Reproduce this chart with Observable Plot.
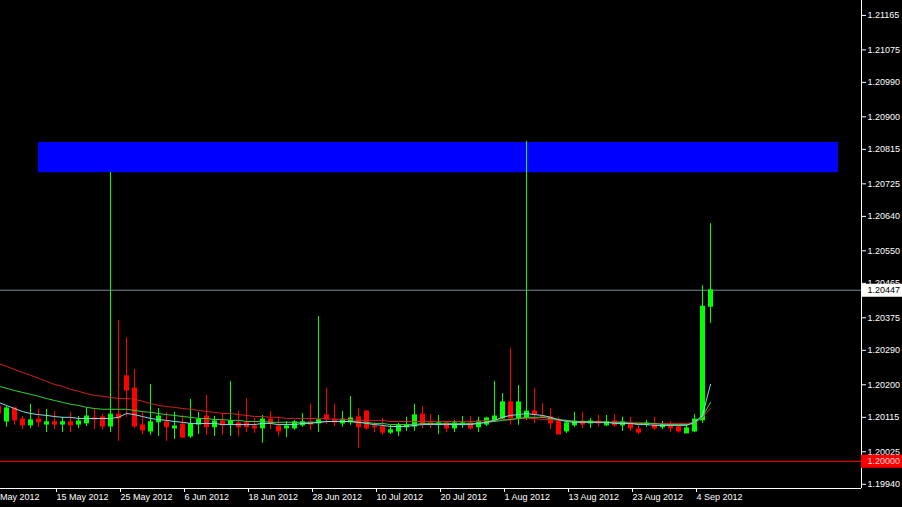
<!DOCTYPE html>
<html><head><meta charset="utf-8">
<script src="https://cdn.jsdelivr.net/npm/d3@7"></script>
<script src="https://cdn.jsdelivr.net/npm/@observablehq/plot@0.6"></script>
<style>html,body{margin:0;padding:0;background:#000;overflow:hidden}</style>
</head><body>
<script>
// Daily bars, index 0 = 7 May 2012 (weekdays only); bars -1 .. 88
const firstBar = -1;
const open = [1.20143,1.20104,1.20138,1.20109,1.20094,1.20109,1.20096,1.20102,1.20096,1.20102,
1.20096,1.20099,1.20112,1.20115,1.20091,1.20122,1.20222,1.20190,1.20094,1.20078,
1.20102,1.20102,1.20086,1.20096,1.20065,1.20096,1.20117,1.20089,1.20104,1.20096,
1.20099,1.20099,1.20091,1.20086,1.20109,1.20091,1.20086,1.20086,1.20094,1.20102,
1.20099,1.20120,1.20109,1.20099,1.20102,1.20115,1.20130,1.20091,1.20089,1.20075,
1.20078,1.20089,1.20091,1.20122,1.20099,1.20096,1.20099,1.20086,1.20096,1.20099,
1.20089,1.20096,1.20107,1.20112,1.20154,1.20112,1.20115,1.20130,1.20117,1.20115,
1.20104,1.20078,1.20094,1.20104,1.20099,1.20104,1.20094,1.20104,1.20094,1.20096,
1.20083,1.20096,1.20096,1.20089,1.20094,1.20089,1.20073,1.20078,1.20107,1.20404];
const high = [1.20154,1.20143,1.20141,1.20117,1.20149,1.20136,1.20136,1.20130,1.20115,1.20128,
1.20117,1.20138,1.20138,1.20122,1.20755,1.20368,1.20323,1.20240,1.20128,1.20201,
1.20138,1.20128,1.20128,1.20120,1.20162,1.20128,1.20172,1.20117,1.20125,1.20209,
1.20130,1.20164,1.20112,1.20120,1.20130,1.20115,1.20104,1.20107,1.20125,1.20149,
1.20378,1.20190,1.20149,1.20130,1.20169,1.20138,1.20133,1.20102,1.20112,1.20094,
1.20099,1.20115,1.20149,1.20143,1.20122,1.20120,1.20102,1.20107,1.20117,1.20117,
1.20115,1.20115,1.20209,1.20177,1.20295,1.20198,1.20836,1.20190,1.20151,1.20138,
1.20115,1.20107,1.20128,1.20128,1.20112,1.20120,1.20120,1.20122,1.20115,1.20115,
1.20094,1.20107,1.20115,1.20104,1.20104,1.20096,1.20096,1.20122,1.20459,1.20621];
const low = [1.20117,1.20089,1.20094,1.20083,1.20086,1.20089,1.20075,1.20083,1.20075,1.20075,
1.20086,1.20091,1.20083,1.20081,1.20075,1.20052,1.20115,1.20086,1.20070,1.20068,
1.20065,1.20052,1.20057,1.20060,1.20060,1.20070,1.20068,1.20065,1.20068,1.20065,
1.20065,1.20075,1.20073,1.20047,1.20083,1.20065,1.20062,1.20081,1.20089,1.20081,
1.20075,1.20096,1.20091,1.20089,1.20094,1.20034,1.20081,1.20075,1.20068,1.20070,
1.20065,1.20078,1.20078,1.20086,1.20086,1.20070,1.20075,1.20075,1.20086,1.20081,
1.20075,1.20091,1.20102,1.20109,1.20094,1.20094,1.20107,1.20099,1.20112,1.20083,
1.20070,1.20073,1.20089,1.20086,1.20086,1.20089,1.20091,1.20089,1.20078,1.20078,
1.20070,1.20089,1.20081,1.20083,1.20075,1.20073,1.20073,1.20075,1.20099,1.20360];
const close = [1.20125,1.20138,1.20107,1.20094,1.20107,1.20102,1.20102,1.20096,1.20102,1.20094,
1.20104,1.20117,1.20109,1.20091,1.20122,1.20112,1.20185,1.20091,1.20081,1.20102,
1.20117,1.20089,1.20091,1.20062,1.20096,1.20109,1.20089,1.20104,1.20094,1.20104,
1.20089,1.20089,1.20086,1.20109,1.20099,1.20078,1.20091,1.20102,1.20102,1.20096,
1.20107,1.20109,1.20102,1.20109,1.20112,1.20089,1.20086,1.20089,1.20075,1.20081,
1.20094,1.20094,1.20120,1.20096,1.20096,1.20099,1.20086,1.20099,1.20099,1.20086,
1.20104,1.20112,1.20117,1.20154,1.20112,1.20154,1.20130,1.20122,1.20115,1.20099,
1.20070,1.20099,1.20104,1.20096,1.20104,1.20099,1.20102,1.20094,1.20102,1.20086,
1.20075,1.20099,1.20086,1.20096,1.20086,1.20078,1.20086,1.20109,1.20404,1.20447];
const maSlow = [1.20256,1.20248,1.20240,1.20232,1.20225,1.20217,1.20209,1.20201,1.20196,1.20188,
1.20183,1.20177,1.20172,1.20170,1.20167,1.20164,1.20164,1.20162,1.20157,1.20151,
1.20146,1.20143,1.20141,1.20138,1.20136,1.20133,1.20130,1.20128,1.20125,1.20125,
1.20122,1.20120,1.20117,1.20117,1.20115,1.20115,1.20112,1.20112,1.20112,1.20112,
1.20112,1.20112,1.20109,1.20109,1.20109,1.20107,1.20107,1.20107,1.20107,1.20104,
1.20104,1.20104,1.20104,1.20104,1.20104,1.20104,1.20104,1.20104,1.20104,1.20104,
1.20104,1.20107,1.20107,1.20109,1.20109,1.20112,1.20112,1.20112,1.20109,1.20109,
1.20107,1.20107,1.20104,1.20104,1.20104,1.20104,1.20102,1.20102,1.20102,1.20102,
1.20102,1.20099,1.20099,1.20099,1.20099,1.20099,1.20099,1.20102,1.20115,1.20138];
const maMid = [1.20196,1.20191,1.20185,1.20180,1.20175,1.20170,1.20164,1.20159,1.20154,1.20149,
1.20146,1.20141,1.20138,1.20136,1.20136,1.20136,1.20136,1.20133,1.20130,1.20128,
1.20125,1.20122,1.20120,1.20117,1.20115,1.20112,1.20112,1.20109,1.20109,1.20107,
1.20107,1.20104,1.20104,1.20104,1.20102,1.20102,1.20102,1.20102,1.20102,1.20102,
1.20102,1.20104,1.20104,1.20104,1.20104,1.20102,1.20102,1.20099,1.20099,1.20096,
1.20096,1.20096,1.20096,1.20099,1.20099,1.20099,1.20099,1.20099,1.20099,1.20099,
1.20099,1.20102,1.20104,1.20107,1.20109,1.20112,1.20115,1.20115,1.20115,1.20112,
1.20109,1.20107,1.20104,1.20104,1.20104,1.20102,1.20102,1.20102,1.20102,1.20099,
1.20099,1.20099,1.20099,1.20096,1.20096,1.20096,1.20096,1.20099,1.20117,1.20154];
const maFast = [1.20154,1.20146,1.20138,1.20130,1.20125,1.20122,1.20120,1.20117,1.20115,1.20115,
1.20112,1.20112,1.20112,1.20112,1.20112,1.20115,1.20125,1.20122,1.20117,1.20112,
1.20109,1.20107,1.20104,1.20102,1.20099,1.20099,1.20099,1.20099,1.20096,1.20096,
1.20096,1.20096,1.20096,1.20099,1.20099,1.20096,1.20096,1.20096,1.20099,1.20099,
1.20102,1.20104,1.20104,1.20104,1.20104,1.20102,1.20099,1.20096,1.20094,1.20091,
1.20091,1.20091,1.20094,1.20096,1.20096,1.20096,1.20096,1.20096,1.20096,1.20096,
1.20099,1.20102,1.20107,1.20115,1.20120,1.20122,1.20125,1.20122,1.20120,1.20115,
1.20109,1.20104,1.20102,1.20102,1.20102,1.20102,1.20102,1.20099,1.20099,1.20099,
1.20096,1.20096,1.20094,1.20094,1.20094,1.20094,1.20094,1.20102,1.20120,1.20201];

const dateTickBars = [-2, 6, 14, 22, 30, 38, 46, 54, 62, 70, 78, 86];
const dateTickLabels = ["3 May 2012","15 May 2012","25 May 2012","6 Jun 2012","18 Jun 2012","28 Jun 2012",
  "10 Jul 2012","20 Jul 2012","1 Aug 2012","13 Aug 2012","23 Aug 2012","4 Sep 2012"];
const priceTicks = [1.19940,1.20025,1.20115,1.20200,1.20290,1.20375,1.20465,1.20550,
  1.20640,1.20725,1.20815,1.20900,1.20990,1.21075,1.21165];
const bidPrice = 1.20447;
const floorPrice = 1.20000;
const zoneBars = [4, 104];
const zonePrices = [1.20754, 1.20833];

const xDomain = [-0.75, 106.875];
const yDomain = [1.19929, 1.21204];

const bars = open.map((o, i) => ({k: firstBar + i, o, h: high[i], l: low[i], c: close[i]}));
const upBars = bars.filter(d => d.c >= d.o);
const downBars = bars.filter(d => d.c < d.o);
const ma = (arr) => arr.map((v, i) => ({k: firstBar + i, v}));
const fmt = d3.format(".5f");
const zone = [{x1: zoneBars[0], x2: zoneBars[1], y1: zonePrices[0], y2: zonePrices[1]}];
const boxW = 5.2;

const candle = (data, color) => [
  Plot.ruleX(data, {x: "k", y1: "l", y2: "h", stroke: color, strokeWidth: 1}),
  Plot.ruleX(data, {x: "k", y1: d => Math.max(d.o, d.c), y2: d => Math.min(d.o, d.c),
    stroke: color, strokeWidth: 5, insetTop: -0.5, insetBottom: -0.5})
];

const chart = Plot.plot({
  width: 902, height: 507,
  marginLeft: 0, marginRight: 41, marginTop: 0, marginBottom: 19,
  style: {background: "#000", color: "#fff", fontFamily: "'Liberation Sans', Arial, sans-serif", fontSize: "9px"},
  x: {type: "linear", domain: xDomain, axis: null},
  y: {type: "linear", domain: yDomain, axis: null},
  marks: [
    Plot.rect(zone, {x1: "x1", x2: "x2", y1: "y1", y2: "y2", fill: "#0000ff"}),
    Plot.ruleY([bidPrice], {x1: xDomain[0], x2: xDomain[1], stroke: "#778899"}),
    Plot.ruleY([floorPrice], {x1: xDomain[0], x2: xDomain[1], stroke: "#ff0000"}),
    ...candle(upBars, "#00ff00"),
    ...candle(downBars, "#ff0000"),
    Plot.line(ma(maSlow), {x: "k", y: "v", stroke: "#d42020", strokeWidth: 1}),
    Plot.line(ma(maMid), {x: "k", y: "v", stroke: "#36d436", strokeWidth: 1}),
    Plot.line(ma(maFast), {x: "k", y: "v", stroke: "#86dcec", strokeWidth: 1}),
    Plot.ruleX([xDomain[1]], {stroke: "#fff"}),
    Plot.ruleY([yDomain[0]], {x1: xDomain[0], x2: xDomain[1], stroke: "#fff"}),
    Plot.axisY({anchor: "right", ticks: priceTicks, tickFormat: fmt, tickSize: 4, tickPadding: 2, fill: "#fff", stroke: "#fff"}),
    Plot.axisX({anchor: "bottom", ticks: dateTickBars, tickFormat: d => dateTickLabels[dateTickBars.indexOf(d)],
      textAnchor: "start", dx: 2, tickSize: 4, tickPadding: 1, fill: "#fff", stroke: "#fff"}),
    Plot.ruleY([bidPrice], {x1: xDomain[1], x2: xDomain[1] + boxW, stroke: "#ffffff", strokeWidth: 13}),
    Plot.text([bidPrice], {x: xDomain[1], y: d => d, text: fmt, textAnchor: "start", dx: 6, fill: "#000"}),
    Plot.ruleY([floorPrice], {x1: xDomain[1], x2: xDomain[1] + boxW, stroke: "#ff0000", strokeWidth: 13}),
    Plot.text([floorPrice], {x: xDomain[1], y: d => d, text: fmt, textAnchor: "start", dx: 6, fill: "#ffd8d8"})
  ]
});
document.body.appendChild(chart);
</script>
</body></html>
